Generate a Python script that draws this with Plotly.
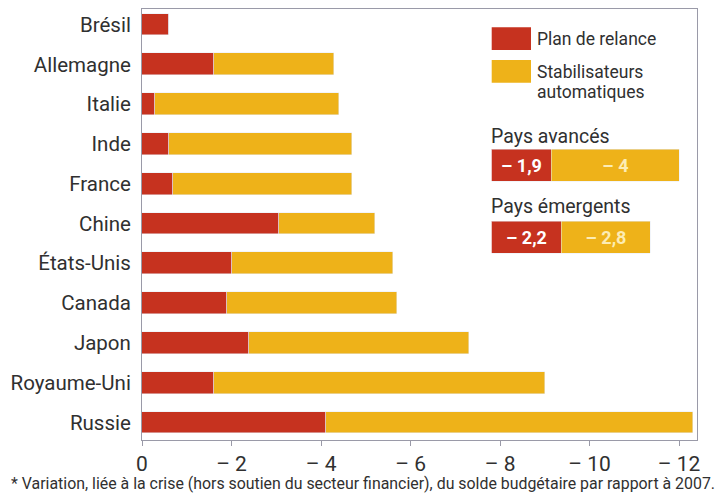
import plotly.graph_objects as go

# ---- data ----
pays = ["Brésil", "Allemagne", "Italie", "Inde", "France", "Chine",
        "États-Unis", "Canada", "Japon", "Royaume-Uni", "Russie"]
plan_relance = [-0.6, -1.6, -0.3, -0.6, -0.7, -3.05, -2.0, -1.9, -2.4, -1.6, -4.1]
stabilisateurs = [0.0, -2.7, -4.1, -4.1, -4.0, -2.15, -3.6, -3.8, -4.9, -7.4, -8.2]

groupes = ["Pays avancés", "Pays émergents"]
groupe_relance = [-1.9, -2.2]
groupe_stabil = [-4.0, -2.8]

tick_vals = [0, -2, -4, -6, -8, -10, -12]
tick_text = ["0", "– 2", "– 4", "– 6", "– 8", "– 10", "– 12"]

RED = "#c6321f"
YEL = "#eeb219"
FONT = "Roboto"
TXT = "#303030"

OFF = 8  # page body margin
W, H = 723 - OFF, 494 - OFF
SL, SR, ST, SB = 142, 697, 9, 440  # plot area in screen pixels


def px(x, y):
    return (x - SL) / (SR - SL), (SB - y) / (SB - ST)


def fmt(v):
    a = abs(v)
    s = str(int(a)) if a == int(a) else str(a).replace(".", ",")
    return "– " + s


fig = go.Figure()
fig.add_trace(go.Bar(y=pays, x=plan_relance, orientation="h", marker_color=RED,
                     width=0.55, name="Plan de relance", showlegend=False))
fig.add_trace(go.Bar(y=pays, x=stabilisateurs, orientation="h", marker_color=YEL,
                     width=0.55, name="Stabilisateurs automatiques", showlegend=False))

# inset bars
fig.add_trace(go.Bar(y=groupes, x=groupe_relance, orientation="h", marker_color=RED,
                     width=0.44, xaxis="x2", yaxis="y2", showlegend=False,
                     text=[fmt(v) for v in groupe_relance], textposition="inside",
                     insidetextanchor="middle",
                     textfont=dict(family=FONT, size=18, color="white", weight="bold")))
fig.add_trace(go.Bar(y=groupes, x=groupe_stabil, orientation="h", marker_color=YEL,
                     width=0.44, xaxis="x2", yaxis="y2", showlegend=False,
                     text=[fmt(v) for v in groupe_stabil], textposition="inside",
                     insidetextanchor="middle",
                     textfont=dict(family=FONT, size=18, color="#fcecb4", weight="bold")))

x0, _ = px(491.7, 0)
_, y2top = px(0, 129.7)
_, y2bot = px(0, 274.1)
inset_range = (SR - 491.7) / 31.8

fig.update_layout(
    width=W, height=H,
    margin=dict(l=SL - OFF, r=723 - SR, t=ST - OFF, b=494 - SB, pad=0),
    paper_bgcolor="white", plot_bgcolor="white",
    barmode="stack", bargap=0,
    font=dict(family=FONT, size=17, color=TXT),
    xaxis=dict(range=[0, -12.4], tickvals=tick_vals, ticktext=tick_text,
               showgrid=False, zeroline=False, showline=True, mirror=True,
               linecolor="#9a9aa8", linewidth=1, ticks="outside", ticklen=5,
               tickcolor="#9a9aa8", tickfont=dict(size=21, color=TXT)),
    yaxis=dict(categoryorder="array", categoryarray=pays, autorange=False,
               range=[10.44, -0.39], showgrid=False, zeroline=False,
               showline=True, mirror=True, linecolor="#9a9aa8", linewidth=1,
               ticks="", ticklabelstandoff=6, tickfont=dict(size=20.5, color=TXT)),
    xaxis2=dict(domain=[x0, 1], range=[0, -inset_range], anchor="y2",
                visible=False),
    yaxis2=dict(domain=[y2bot, y2top], range=[1.5, -0.5], anchor="x2",
                categoryorder="array", categoryarray=groupes, visible=False),
)

# legend swatches
for (y_a, y_b, c) in [(27.3, 50, RED), (60, 82.7, YEL)]:
    xa, ya = px(491.7, y_a)
    xb, yb = px(531, y_b)
    fig.add_shape(type="rect", xref="paper", yref="paper", x0=xa, x1=xb, y0=yb, y1=ya,
                  fillcolor=c, line_width=0)


def ann(text, x, y, size=17.5):
    ax, ay = px(x, y)
    fig.add_annotation(text=text, xref="paper", yref="paper", x=ax, y=ay,
                       xanchor="left", yanchor="middle", showarrow=False,
                       font=dict(family=FONT, size=size, color=TXT))


ann("Plan de relance", 535, 39)
ann("Stabilisateurs", 535, 72)
ann("automatiques", 535, 92)
ann(groupes[0], 489, 136.7, 19.5)
ann(groupes[1], 489, 207, 19.5)

fig.add_annotation(text="* Variation, liée à la crise (hors soutien du secteur financier), du solde budgétaire par rapport à 2007.",
                   xref="paper", yref="paper", x=px(9, 0)[0], y=px(0, 483)[1],
                   xanchor="left", yanchor="middle", showarrow=False,
                   font=dict(family=FONT, size=15.9, color=TXT))

fig.write_html("out.html")
